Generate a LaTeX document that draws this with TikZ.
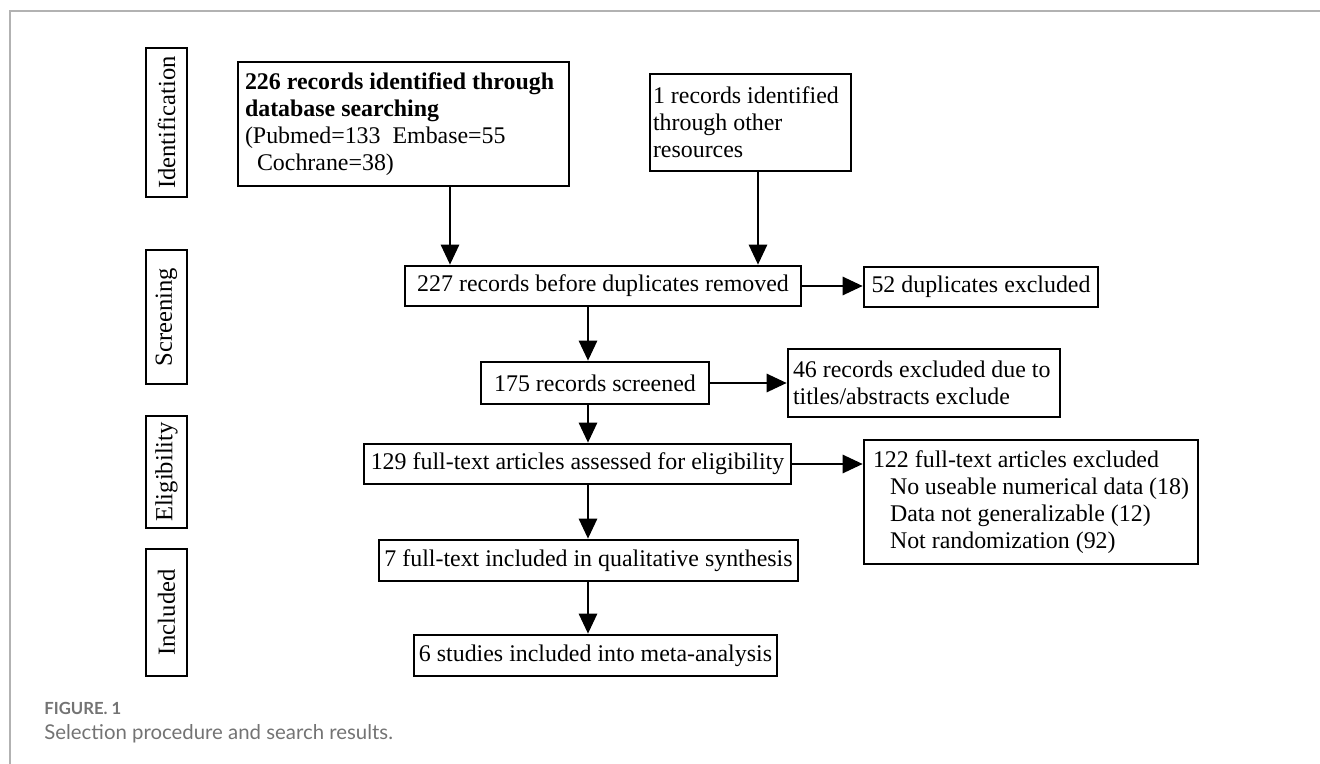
\documentclass[tikz,border=0pt]{standalone}
\usepackage{fontspec}
\setmainfont{Liberation Serif}
\newfontfamily\capfont{Lato}
\usetikzlibrary{arrows.meta,positioning}

\begin{document}
\begin{tikzpicture}[x=0.02cm,y=-0.02cm]
  \tikzstyle{box} = [draw, line width=1.6pt, inner xsep=0.1cm, inner ysep=0pt, font=\fontsize{13.6}{15.4}\selectfont];
  \tikzstyle{stage} = [box, rotate=90, minimum height=0.82cm, inner xsep=0pt, font=\fontsize{14}{15}\selectfont];
  \tikzstyle{flow} = [-{Triangle[length=0.4cm,width=0.37cm]}, line width=0.8pt];
  \tikzstyle{caption} = [anchor=base west, inner sep=0pt, text=black!55];

  \useasboundingbox (0,0) rectangle (1320,764);
  \draw[black!30, line width=0.75pt] (1320,11) -- (10,11) -- (10,764);

  % stage labels
  \node[stage, minimum width=2.98cm](ident) at (166.5,122.5) {Identification};
  \node[stage, minimum width=2.68cm](screen) at (166.5,317) {Screening};
  \node[stage, minimum width=2.24cm](elig) at (166.5,472) {Eligibility};
  \node[stage, minimum width=2.54cm](incl) at (166.5,612.5) {Included};

  % boxes
  \node[box, text width=6.34cm, minimum height=2.48cm, inner xsep=0.14cm, align=flush left](db) at (403.5,124)
    {\textbf{226 records identified through}\\\textbf{database searching}\\(Pubmed=133\ \ Embase=55\\\hspace*{0.24cm}Cochrane=38)};
  \node[box, text width=3.9cm, minimum height=1.94cm, inner xsep=0.06cm, align=flush left](other) at (750.5,122.5)
    {1 records identified\\through other\\resources};
  \node[box, minimum width=7.92cm, minimum height=0.8cm](dupl) at (603,286) {227 records before duplicates removed};
  \node[box, minimum width=4.68cm, minimum height=0.8cm](dupx) at (981,287) {52 duplicates excluded};
  \node[box, minimum width=4.56cm, minimum height=0.84cm](scr) at (595,383) {175 records screened};
  \node[box, text width=5.24cm, minimum height=1.36cm, inner xsep=0.1cm, align=flush left](scrx) at (924,383)
    {46 records excluded due to\\titles/abstracts exclude};
  \node[box, minimum width=8.54cm, minimum height=0.8cm](full) at (577.5,464) {129 full-text articles assessed for eligibility};
  \node[box, text width=6.32cm, minimum height=2.48cm, inner xsep=0.18cm, align=flush left](fullx) at (1031,502)
    {122 full-text articles excluded\\\hspace*{0.34cm}No useable numerical data (18)\\\hspace*{0.34cm}Data not generalizable (12)\\\hspace*{0.34cm}Not randomization (92)};
  \node[box, minimum width=8.38cm, minimum height=0.82cm](qual) at (588.5,560.5) {7 full-text included in qualitative synthesis};
  \node[box, minimum width=7.26cm, minimum height=0.82cm](meta) at (595.5,655.5) {6 studies included into meta-analysis};

  % arrow columns
  \coordinate (colA) at (450,0);
  \coordinate (colB) at (758,0);
  \coordinate (colM) at (588,0);

  \draw[flow] (db.south -| colA) -- (dupl.north -| colA);
  \draw[flow] (other.south -| colB) -- (dupl.north -| colB);
  \draw[flow] (dupl.south -| colM) -- (scr.north -| colM);
  \draw[flow] (scr.south -| colM) -- (full.north -| colM);
  \draw[flow] (full.south -| colM) -- (qual.north -| colM);
  \draw[flow] (qual.south -| colM) -- (meta.north -| colM);
  \draw[flow] (dupl.east) -- (dupl.east -| dupx.west);
  \draw[flow] (scr.east) -- (scrx.west);
  \draw[flow] (full.east) -- (full.east -| fullx.west);

  % caption
  \node[caption, font=\capfont\bfseries\fontsize{9.5}{10}\selectfont](figno) at (44,714) {FIGURE. 1};
  \node[caption, font=\capfont\fontsize{11.6}{12}\selectfont](figcap) at (44,739) {Selection procedure and search results.};
\end{tikzpicture}
\end{document}
